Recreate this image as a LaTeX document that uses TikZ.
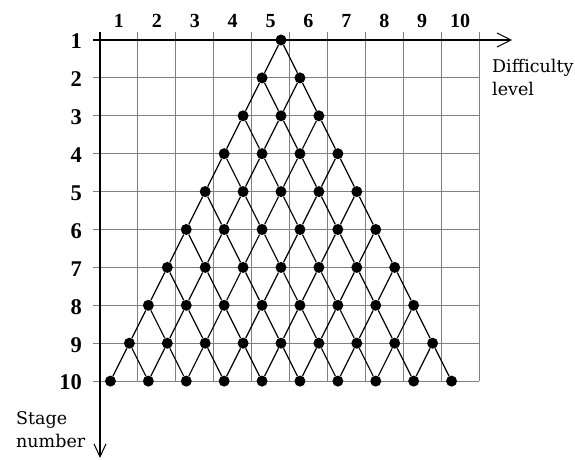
\documentclass[tikz,border=0pt]{standalone}
\usepackage{fontspec}
\setmainfont{DejaVu Serif}
\newfontfamily\digitfont{Liberation Serif}
\usetikzlibrary{arrows.meta}
\begin{document}
\begin{tikzpicture}[x=1pt,y=-1pt,
  gridline/.style={draw=black!50,line width=1pt},
  axisline/.style={draw=black,line width=1.3pt},
  barbh/.style={-{Straight Barb[length=14pt,width=14pt,line width=1pt]}},
  barbv/.style={-{Straight Barb[length=13pt,width=12pt,line width=1pt]}},
  edge/.style={draw=black,line width=1.2pt},
  dot/.style={circle,fill=black,inner sep=0pt,minimum size=11pt},
  rowlab/.style={anchor=east,inner sep=0pt,font=\digitfont\fontsize{22.5}{24}\selectfont\bfseries},
  collab/.style={anchor=center,inner sep=0pt,font=\digitfont\fontsize{20}{22}\selectfont\bfseries},
  axislab/.style={anchor=base west,inner sep=0pt,font=\fontsize{17.5}{21}\selectfont}]
\useasboundingbox (0,0) rectangle (575,460);
\fill[white] (0,0) rectangle (575,460);
% grid
\foreach \k in {1,...,10}
  \draw[gridline] ({100+37.9*\k},32) -- ({100+37.9*\k},381.1);
\foreach \r in {2,...,10}
  \draw[gridline] (93,{40+37.9*(\r-1)}) -- (479,{40+37.9*(\r-1)});
% axes
\coordinate (xstart) at (93,40);
\coordinate (xend) at (512,40);
\coordinate (ystart) at (100,32);
\coordinate (yend) at (100,458);
\draw[axisline,barbh] (xstart) -- (xend);
\draw[axisline,barbv] (ystart) -- (yend);
% labels
\foreach \r in {1,...,10}
  \node[rowlab] (r\r) at (82,{40+37.9*(\r-1)+1.5}) {\r};
\foreach \k in {1,...,10}
  \node[collab] (c\k) at ({100+37.9*(\k-0.5)},21) {\k};
\node[axislab] (dl1) at (492,72) {Difficulty};
\node[axislab] (dl2) at (492,95) {level};
\node[axislab] (sn1) at (16,424) {Stage};
\node[axislab] (sn2) at (16,447) {number};
% dots
\foreach \r in {1,...,10} {
  \pgfmathtruncatemacro\lastj{\r-1}
  \foreach \j in {0,...,\lastj}
    \node[dot] (d-\r-\j) at ({281-18.95*(\r-1)+37.9*\j},{40+37.9*(\r-1)}) {};
}
% edges
\foreach \r in {1,...,9} {
  \pgfmathtruncatemacro\lastj{\r-1}
  \pgfmathtruncatemacro\nxr{\r+1}
  \foreach \j in {0,...,\lastj} {
    \pgfmathtruncatemacro\nxj{\j+1}
    \draw[edge] (d-\r-\j) -- (d-\nxr-\j);
    \draw[edge] (d-\r-\j) -- (d-\nxr-\nxj);
  }
}
\end{tikzpicture}
\end{document}
